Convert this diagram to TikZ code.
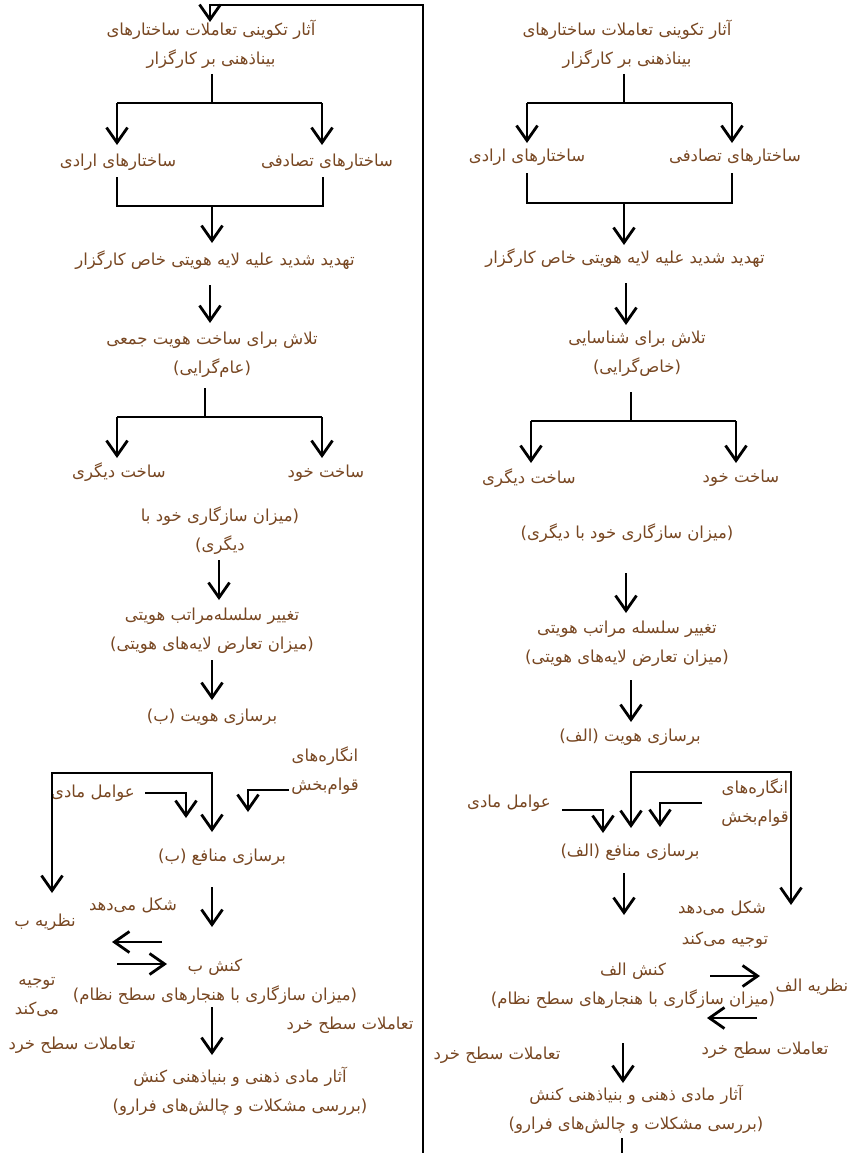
\documentclass[tikz,border=0pt]{standalone}
\usepackage{fontspec}
\newfontfamily\arabicfont[Script=Arabic]{DejaVu Sans}
\TeXXeTstate=1
\usetikzlibrary{arrows.meta}
\definecolor{txtbrown}{HTML}{784722}
\newcommand{\rtlline}[1]{\beginR #1\endR}
\tikzset{
  lbl/.style={font={\arabicfont\fontsize{16.5}{29}\selectfont}, text=txtbrown, align=center, inner sep=0pt},
  ln/.style={line width=2.8pt, black},
  arr/.style={ln, -{Straight Barb[length=15pt,width=21pt,line width=2.8pt]}},
  arrb/.style={ln, {Straight Barb[length=15pt,width=21pt,line width=2.8pt]}-{Straight Barb[length=15pt,width=21pt,line width=2.8pt]}}
}
\begin{document}
\begin{tikzpicture}[x=1pt,y=-1pt]
\useasboundingbox (0,0) rectangle (848,1153);
\fill[white] (0,0) rectangle (848,1153);

% ---------- nodes: left column ----------
\node[lbl] (L1) at (211,44) {\rtlline{آثار تکوینی تعاملات ساختارهای}\\\rtlline{بیناذهنی بر کارگزار}};
\node[lbl] (L2a) at (118,162) {\rtlline{ساختارهای ارادی}};
\node[lbl] (L2b) at (327,162) {\rtlline{ساختارهای تصادفی}};
\node[lbl] (L3) at (215,260) {\rtlline{تهدید شدید علیه لایه هویتی خاص کارگزار}};
\node[lbl] (L4) at (212,355) {\rtlline{تلاش برای ساخت هویت جمعی}\\\rtlline{(عام^^^^200cگرایی)}};
\node[lbl] (L5a) at (119,472) {\rtlline{ساخت دیگری}};
\node[lbl] (L5b) at (326,473) {\rtlline{ساخت خود}};
\node[lbl] (L6) at (220,531) {\rtlline{(میزان سازگاری خود با}\\\rtlline{دیگری)}};
\node[lbl] (L7) at (212,631) {\rtlline{تغییر سلسله^^^^200cمراتب هویتی}\\\rtlline{(میزان تعارض لایه^^^^200cهای هویتی)}};
\node[lbl] (L8) at (212,717) {\rtlline{برسازی هویت (ب)}};
\node[lbl] (L9) at (325,771) {\rtlline{انگاره^^^^200cهای}\\\rtlline{قوام^^^^200cبخش}};
\node[lbl] (L10) at (93,793) {\rtlline{عوامل مادی}};
\node[lbl] (L11) at (222,857) {\rtlline{برسازی منافع (ب)}};
\node[lbl] (L12) at (133,905) {\rtlline{شکل می^^^^200cدهد}};
\node[lbl] (L13) at (45,922) {\rtlline{نظریه ب}};
\node[lbl] (L14) at (215,982) {\rtlline{کنش ب}\\\rtlline{(میزان سازگاری با هنجارهای سطح نظام)}};
\node[lbl] (L15) at (37,997) {\rtlline{توجیه}\\\rtlline{می^^^^200cکند}};
\node[lbl] (L16) at (72,1045) {\rtlline{تعاملات سطح خرد}};
\node[lbl] (L17) at (350,1025) {\rtlline{تعاملات سطح خرد}};
\node[lbl] (L18) at (240,1091) {\rtlline{آثار مادی ذهنی و بنیاذهنی کنش}\\\rtlline{(بررسی مشکلات و چالش^^^^200cهای فرارو)}};

% ---------- nodes: right column ----------
\node[lbl] (R1) at (627,44) {\rtlline{آثار تکوینی تعاملات ساختارهای}\\\rtlline{بیناذهنی بر کارگزار}};
\node[lbl] (R2a) at (527,157) {\rtlline{ساختارهای ارادی}};
\node[lbl] (R2b) at (735,157) {\rtlline{ساختارهای تصادفی}};
\node[lbl] (R3) at (625,258) {\rtlline{تهدید شدید علیه لایه هویتی خاص کارگزار}};
\node[lbl] (R4) at (637,354) {\rtlline{تلاش برای شناسایی}\\\rtlline{(خاص^^^^200cگرایی)}};
\node[lbl] (R5a) at (529,478) {\rtlline{ساخت دیگری}};
\node[lbl] (R5b) at (741,478) {\rtlline{ساخت خود}};
\node[lbl] (R6) at (627,533) {\rtlline{(میزان سازگاری خود با دیگری)}};
\node[lbl] (R7) at (627,644) {\rtlline{تغییر سلسله مراتب هویتی}\\\rtlline{(میزان تعارض لایه^^^^200cهای هویتی)}};
\node[lbl] (R8) at (630,737) {\rtlline{برسازی هویت (الف)}};
\node[lbl] (R9) at (755,803) {\rtlline{انگاره^^^^200cهای}\\\rtlline{قوام^^^^200cبخش}};
\node[lbl] (R10) at (509,803) {\rtlline{عوامل مادی}};
\node[lbl] (R11) at (630,852) {\rtlline{برسازی منافع (الف)}};
\node[lbl] (R12) at (722,908) {\rtlline{شکل می^^^^200cدهد}};
\node[lbl] (R13) at (725,940) {\rtlline{توجیه می^^^^200cکند}};
\node[lbl] (R14) at (633,986) {\rtlline{کنش الف}\\\rtlline{(میزان سازگاری با هنجارهای سطح نظام)}};
\node[lbl] (R15) at (812,987) {\rtlline{نظریه الف}};
\node[lbl] (R16) at (765,1050) {\rtlline{تعاملات سطح خرد}};
\node[lbl] (R17) at (497,1055) {\rtlline{تعاملات سطح خرد}};
\node[lbl] (R18) at (636,1109) {\rtlline{آثار مادی ذهنی و بنیاذهنی کنش}\\\rtlline{(بررسی مشکلات و چالش^^^^200cهای فرارو)}};

% ---------- divider and feedback loop ----------
\coordinate (divB) at (423,1153);
\coordinate (divT) at (423,5);
\coordinate (topL) at (210,5);
\coordinate (L1in) at (210,22);
\draw[arr] (divB) -- (divT) -- (topL) -- (L1in);

% ---------- left column connectors ----------
\coordinate (L1o) at (212,74);
\coordinate (L1f) at (212,103);
\draw[ln] (L1o) -- (L1f);
\coordinate (L1fl) at (117,103);
\coordinate (L1fr) at (322,103);
\draw[ln] (L1fl) -- (L1fr);
\draw[arr] (L1fl) -- (117,145) coordinate (L2ain);
\draw[arr] (L1fr) -- (322,145) coordinate (L2bin);
\coordinate (L2ao) at (117,177);
\coordinate (L2bo) at (323,177);
\draw[ln] (L2ao) -- (117,206) -- (323,206) -- (L2bo);
\coordinate (L2j) at (212,205);
\coordinate (L3in) at (212,243);
\draw[arr] (L2j) -- (L3in);
\coordinate (L3o) at (210,285);
\coordinate (L4in) at (210,323);
\draw[arr] (L3o) -- (L4in);
\coordinate (L4o) at (205,388);
\draw[ln] (L4o) -- (205,417);
\coordinate (L4fl) at (117,417);
\coordinate (L4fr) at (322,417);
\draw[ln] (L4fl) -- (L4fr);
\draw[arr] (L4fl) -- (117,458) coordinate (L5ain);
\draw[arr] (L4fr) -- (322,458) coordinate (L5bin);
\coordinate (L6o) at (219,560);
\coordinate (L7in) at (219,600);
\draw[arr] (L6o) -- (L7in);
\coordinate (L7o) at (212,660);
\coordinate (L8in) at (212,700);
\draw[arr] (L7o) -- (L8in);
% theory loop
\coordinate (L13in) at (52,893);
\coordinate (L11in) at (212,832);
\draw[arrb] (L13in) -- (52,773) -- (212,773) -- (L11in);
\coordinate (L10o) at (145,793);
\draw[arr] (L10o) -- (186,793) -- (186,818);
\coordinate (L9o) at (289,790);
\draw[arr] (L9o) -- (248,790) -- (248,812);
\coordinate (L11o) at (212,887);
\coordinate (L14in) at (212,927);
\draw[arr] (L11o) -- (L14in);
\coordinate (L14l) at (162,942);
\coordinate (L13r) at (112,942);
\draw[arr] (L14l) -- (L13r);
\coordinate (L13o) at (117,964);
\coordinate (L14r) at (167,964);
\draw[arr] (L13o) -- (L14r);
\coordinate (L14o) at (212,1007);
\coordinate (L18in) at (212,1055);
\draw[arr] (L14o) -- (L18in);

% ---------- right column connectors ----------
\coordinate (R1o) at (624,74);
\draw[ln] (R1o) -- (624,103);
\coordinate (R1fl) at (527,103);
\coordinate (R1fr) at (732,103);
\draw[ln] (R1fl) -- (R1fr);
\draw[arr] (R1fl) -- (527,143) coordinate (R2ain);
\draw[arr] (R1fr) -- (732,143) coordinate (R2bin);
\coordinate (R2ao) at (527,173);
\coordinate (R2bo) at (732,173);
\draw[ln] (R2ao) -- (527,203) -- (732,203) -- (R2bo);
\coordinate (R2j) at (624,202);
\coordinate (R3in) at (624,245);
\draw[arr] (R2j) -- (R3in);
\coordinate (R3o) at (626,283);
\coordinate (R4in) at (626,325);
\draw[arr] (R3o) -- (R4in);
\coordinate (R4o) at (631,392);
\draw[ln] (R4o) -- (631,421);
\coordinate (R4fl) at (531,421);
\coordinate (R4fr) at (736,421);
\draw[ln] (R4fl) -- (R4fr);
\draw[arr] (R4fl) -- (531,463) coordinate (R5ain);
\draw[arr] (R4fr) -- (736,463) coordinate (R5bin);
\coordinate (R6o) at (626,573);
\coordinate (R7in) at (626,613);
\draw[arr] (R6o) -- (R7in);
\coordinate (R7o) at (631,680);
\coordinate (R8in) at (631,722);
\draw[arr] (R7o) -- (R8in);
% theory loop
\coordinate (R11in) at (631,828);
\coordinate (R15in) at (791,905);
\draw[arrb] (R11in) -- (631,772) -- (791,772) -- (R15in);
\coordinate (R9o) at (702,803);
\draw[arr] (R9o) -- (660,803) -- (660,827);
\coordinate (R10o) at (562,810);
\draw[arr] (R10o) -- (603,810) -- (603,833);
\coordinate (R11o) at (624,873);
\coordinate (R14in) at (624,915);
\draw[arr] (R11o) -- (R14in);
\coordinate (R14r) at (710,976);
\coordinate (R15l) at (760,976);
\draw[arr] (R14r) -- (R15l);
\coordinate (R15o) at (757,1018);
\coordinate (R14rb) at (707,1018);
\draw[arr] (R15o) -- (R14rb);
\coordinate (R14o) at (623,1043);
\coordinate (R18in) at (623,1083);
\draw[arr] (R14o) -- (R18in);
\coordinate (R18o) at (622,1138);
\coordinate (Rbot) at (622,1153);
\draw[ln] (R18o) -- (Rbot);
\end{tikzpicture}
\end{document}
